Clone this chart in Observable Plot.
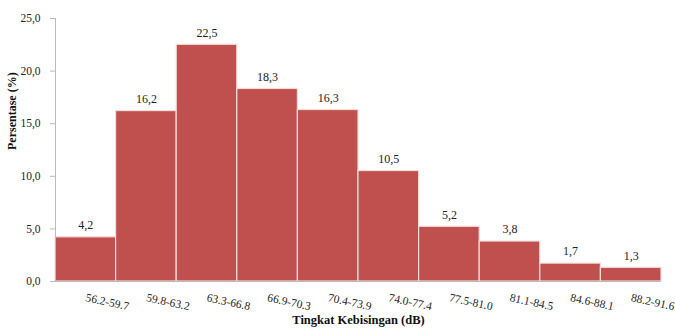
<!DOCTYPE html>
<html><head><meta charset="utf-8">
<script src="https://cdn.jsdelivr.net/npm/d3@7"></script>
<script src="https://cdn.jsdelivr.net/npm/@observablehq/plot@0.6"></script>
<style>
body{margin:0;background:#fff;}
</style></head>
<body><div id="chart"></div>
<script>
const categories = ["56.2-59.7","59.8-63.2","63.3-66.8","66.9-70.3","70.4-73.9","74.0-77.4","77.5-81.0","81.1-84.5","84.6-88.1","88.2-91.6"];
const values = [4.2,16.2,22.5,18.3,16.3,10.5,5.2,3.8,1.7,1.3];
const yTicks = [0,5,10,15,20,25];
const data = categories.map((c,i)=>({c, v: values[i]}));
const fmt = v => v.toFixed(1).replace(".", ",");
const serif = "'Liberation Serif', 'Times New Roman', serif";

const chart = Plot.plot({
  width: 675, height: 331,
  marginLeft: 55, marginRight: 14, marginTop: 18, marginBottom: 50,
  style: {fontSize: "11px", color: "#222", background: "#fff", fontFamily: serif},
  x: {domain: categories, padding: 0, round: false, axis: null},
  y: {domain: [0, 25], ticks: yTicks, tickFormat: fmt, label: null},
  marks: [
    Plot.barY(data, {x: "c", y: "v", fill: "#C0504D", stroke: "#f2dcdb", strokeWidth: 1.2}),
    Plot.text(data, {x: "c", y: "v", text: d => fmt(d.v), dy: -12, fontSize: 12, fill: "#222"}),
    Plot.text(data, {x: "c", y: 0, text: "c", dy: 16, dx: 0, textAnchor: "start", rotate: 12, fontSize: 11.5, fill: "#222"}),
    Plot.ruleY([0], {stroke: "#bbb", insetLeft: -4}),
    Plot.frame({anchor: "left", stroke: "#bbb"}),
    Plot.axisY({ticks: yTicks, tickFormat: fmt, tickSize: 5, tickPadding: 10, stroke: "#bbb", label: null, fontSize: 11.5, fill: "#222"}),
    Plot.text(["Persentase (%)"], {frameAnchor: "left", dx: -43, rotate: -90, fontWeight: "bold", fontSize: 12, fill: "#111"}),
    Plot.text(["Tingkat Kebisingan (dB)"], {frameAnchor: "bottom", dy: 42, fontWeight: "bold", fontSize: 12.5, fill: "#111"})
  ]
});
chart.querySelectorAll("text, g").forEach(el => { el.setAttribute("font-family", serif); });
document.getElementById("chart").append(chart);
</script></body></html>
